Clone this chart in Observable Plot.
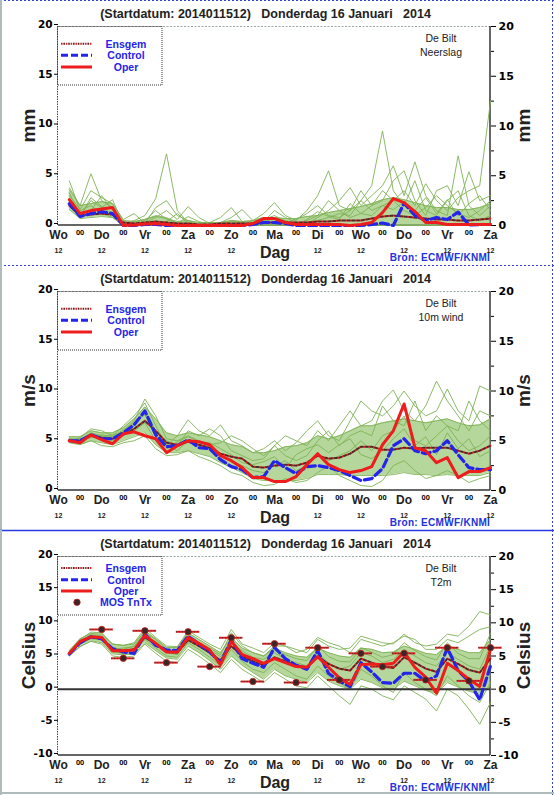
<!DOCTYPE html>
<html><head><meta charset="utf-8">
<script src="https://cdn.jsdelivr.net/npm/d3@7"></script>
<script src="https://cdn.jsdelivr.net/npm/@observablehq/plot@0.6"></script>
<style>
body{margin:0;background:#fff;}
#chart{width:554px;height:795px;position:relative;overflow:hidden;background:#fff;}
#chart svg{display:block;}
</style></head><body><div id="chart"></div>
<script>
// ---------- axis / tick labels ----------
const titleText = "(Startdatum: 2014011512)   Donderdag 16 Januari   2014";
const dayNames = ["Wo","Do","Vr","Za","Zo","Ma","Di","Wo","Do","Vr","Za"];
const dayHours = dayNames.map((d, i) => i * 24);
const hourLabels12 = [0, 24, 48, 72, 96, 144, 168, 192, 216, 240]; // "12" under day names (hidden under "Dag" at Ma)
const midHours = d3.range(12, 240, 24);
const hours = d3.range(6, 241, 6); // 6-hourly forecast steps

// ---------- Neerslag (mm) ----------
const precipOper    = [2.6,1.2,1.5,1.65,1.8,0.0,0.05,0.15,0.2,0.1,0.0,0.0,0.0,0.0,0.0,0.0,0.0,0.2,0.7,0.7,0.3,0.1,0.1,0.1,0.1,0.1,0.0,0.1,0.3,1.3,2.7,2.3,1.4,0.3,0.3,0.1,0.1,0.1,0.1,0.1];
const precipControl = [2.2,0.9,1.2,1.4,1.2,0.0,0.0,0.1,0.1,0.0,0.0,0.0,0.0,0.0,0.0,0.0,0.0,0.1,0.3,0.3,0.2,0.0,0.0,0.0,0.0,0.0,0.0,0.0,0.1,0.25,0.0,2.25,1.0,0.5,0.8,0.6,1.35,0.05,0.1,0.1];
const precipMean    = [2.0,1.0,1.1,1.2,1.1,0.3,0.2,0.3,0.4,0.3,0.2,0.2,0.1,0.1,0.2,0.2,0.2,0.2,0.3,0.3,0.3,0.3,0.3,0.4,0.4,0.5,0.5,0.5,0.7,0.9,1.0,0.9,0.8,0.7,0.6,0.6,0.5,0.5,0.6,0.7];
const precipLo      = [1.6,0.7,0.8,0.9,0.8,0,0,0,0,0,0,0,0,0,0,0,0,0,0,0,0,0,0,0,0,0,0,0,0,0,0,0,0,0,0,0,0,0,0,0];
const precipHi      = [3.6,2.0,2.2,2.4,2.2,0.5,0.4,0.6,0.9,0.7,0.4,0.5,0.3,0.3,0.3,0.5,0.4,0.5,0.8,0.8,0.7,0.7,0.9,1.0,1.3,1.5,1.7,1.9,2.2,2.6,2.8,2.6,2.3,2.0,1.8,1.8,1.6,1.6,1.8,2.2];
const precipM1 = [4.5,1.5,2.0,1.2,0.8,0.2,0.5,1.0,2.7,7.2,1.5,0.3,0.1,0.0,0.2,0.4,0.3,0.2,0.5,0.6,0.3,0.2,0.5,1.0,2.5,1.5,0.8,1.2,2.0,3.5,2.5,1.5,1.0,1.8,3.0,2.0,1.2,0.8,1.5,2.5];
const precipM2 = [3.8,2.0,5.2,2.5,1.8,0.1,0.0,0.3,0.8,1.5,0.6,1.9,0.8,0.2,0.1,0.2,0.1,0.5,1.2,2.3,1.0,0.5,1.5,3.0,5.5,2.0,1.5,2.5,4.0,9.5,3.5,2.0,4.5,1.5,1.0,2.5,3.5,1.0,0.5,1.0];
const precipM3 = [3.0,1.6,3.5,2.8,2.2,0.6,1.2,0.2,1.8,2.5,1.0,0.5,0.1,0.3,0.8,1.8,0.4,0.3,0.4,1.5,0.8,0.3,0.2,0.8,1.5,2.5,3.8,2.0,3.0,4.0,6.0,3.0,6.4,3.0,1.5,1.0,7.0,2.0,1.0,2.0];
const precipM4 = [2.5,1.2,1.5,3.0,1.5,0.3,0.0,0.5,1.5,0.6,0.2,0.1,0.0,0.1,0.3,0.8,1.6,0.5,0.2,0.4,0.3,0.6,1.2,2.0,1.0,0.8,1.5,3.5,2.0,2.5,4.5,5.5,2.5,1.0,3.5,4.0,2.0,5.4,2.5,3.0];
const precipM5 = [2.0,1.0,2.5,1.8,2.6,0.1,0.2,0.0,0.2,0.4,1.2,0.2,0.0,0.0,0.1,0.2,0.1,0.1,0.3,0.8,0.5,0.2,0.3,0.5,0.8,1.2,1.0,2.5,1.5,2.0,2.5,3.5,2.0,4.2,2.5,1.5,2.8,3.5,4.0,12.5];
const precipM6 = [3.3,0.9,2.8,1.9,1.1,0.0,0.3,0.6,1.0,0.8,0.2,0.9,0.4,0.0,0.0,0.5,0.3,0.0,0.6,1.0,0.4,0.1,0.6,1.4,0.9,0.6,2.2,1.2,1.0,2.0,1.6,2.4,1.5,2.8,1.2,2.6,1.0,2.2,3.0,1.5];

// ---------- 10m wind (m/s) ----------
const windOper    = [5.0,4.8,5.6,5.1,4.7,5.7,5.9,5.5,5.2,3.8,4.5,5.0,4.9,4.6,3.5,3.0,2.3,1.3,1.3,0.9,0.9,1.4,2.6,3.7,2.6,2.1,1.8,2.0,2.4,4.6,6.0,8.7,4.3,4.0,2.8,3.3,1.3,1.9,1.9,2.3];
const windControl = [5.0,5.0,5.6,5.2,5.2,5.8,6.6,8.0,5.6,4.4,4.5,5.1,4.3,4.2,3.1,2.4,2.1,1.3,1.4,3.0,2.3,1.7,2.4,2.5,2.3,2.0,1.5,1.0,1.2,2.2,4.5,5.2,4.0,3.7,4.0,5.0,3.6,2.3,2.1,2.1];
const windMean    = [5.0,5.0,5.5,5.3,5.2,5.6,6.2,7.0,6.0,4.8,4.6,4.9,4.6,4.3,3.7,3.4,3.2,2.4,2.3,2.5,2.6,2.5,2.8,3.5,3.2,3.3,3.7,4.4,4.4,4.1,4.1,4.3,4.2,4.3,4.3,4.3,4.0,3.7,4.0,4.5];
const windLo      = [4.8,4.6,5.0,4.8,4.6,5.0,5.4,5.8,4.6,3.8,3.8,4.0,3.7,3.4,2.8,2.3,1.8,1.2,1.0,1.0,1.0,1.0,1.2,1.6,1.6,1.6,1.5,1.5,1.5,1.5,1.6,1.8,1.6,1.6,1.5,1.6,1.5,1.5,1.5,1.8];
const windHi      = [5.4,5.4,6.0,5.8,5.8,6.3,7.2,8.4,7.2,5.8,5.5,5.8,5.6,5.4,5.0,4.6,4.4,3.8,3.8,4.0,4.4,4.5,4.8,5.5,5.2,5.5,6.0,6.5,6.5,6.8,7.0,7.2,7.0,6.8,7.0,7.2,6.8,6.5,6.6,7.2];
const windM1 = [5.2,5.0,5.8,5.5,5.3,6.0,7.0,9.2,7.5,5.2,5.0,5.5,5.0,4.6,4.8,5.5,5.0,4.2,3.5,4.5,5.5,5.0,4.5,6.0,5.0,6.5,8.0,6.5,7.0,9.0,10.1,8.0,7.0,8.5,11.0,9.0,7.5,6.0,8.0,7.5];
const windM2 = [5.0,5.3,6.2,6.0,5.5,6.5,7.5,8.8,6.5,4.5,5.5,7.1,6.0,5.5,6.6,5.0,4.5,3.8,4.2,5.0,4.0,4.8,6.0,7.0,5.5,5.0,7.0,9.0,8.0,7.5,8.5,10.0,8.5,7.5,8.0,10.2,8.0,7.0,10.5,10.0];
const windM3 = [4.9,4.7,5.0,4.5,4.4,4.8,5.0,5.5,4.2,3.5,3.6,4.0,3.4,3.0,2.5,1.8,1.5,0.8,0.5,0.6,1.2,0.8,1.0,1.8,2.5,1.5,1.0,0.5,0.4,1.0,2.5,3.0,2.0,1.2,1.5,2.0,1.5,0.8,1.2,1.5];
const windM4 = [5.1,5.2,5.5,5.2,5.0,5.5,6.5,8.0,6.0,5.0,4.5,6.0,5.5,6.2,5.5,4.0,3.5,3.0,3.2,4.5,3.5,3.0,3.5,5.0,6.0,4.5,5.5,6.0,5.5,8.5,7.0,6.5,9.0,6.0,7.5,6.5,6.0,9.0,7.0,6.0];
const windM5 = [5.0,4.8,5.6,5.4,5.6,5.8,6.0,6.8,5.0,4.6,4.0,5.0,4.5,4.0,3.5,3.0,2.5,2.0,1.8,2.5,3.0,2.0,2.5,3.5,3.0,3.5,4.0,5.0,4.0,5.5,6.0,7.5,5.0,4.5,5.5,6.5,5.0,4.0,4.5,5.5];
const windM6 = [5.2,5.1,5.3,5.6,5.4,6.1,6.8,7.6,5.4,4.2,4.9,5.4,4.9,4.8,4.2,3.6,2.8,2.6,2.9,3.4,2.2,3.6,4.2,4.6,3.8,4.6,5.2,3.6,3.2,4.0,5.2,6.2,4.5,5.4,3.6,5.8,4.2,5.2,3.4,4.0];

// ---------- T2m (Celsius) ----------
const tempOper    = [5.4,7.2,7.9,7.8,5.8,5.8,5.9,8.1,6.9,5.6,5.6,7.8,6.9,5.9,3.7,7.2,5.2,4.6,3.9,4.6,4.0,3.4,3.3,4.9,3.3,1.7,0.7,3.7,3.8,3.7,3.9,5.6,3.3,1.8,-0.6,3.9,2.8,1.5,0.4,6.0];
const tempControl = [5.3,7.0,7.9,7.6,6.1,5.6,5.4,8.3,6.6,5.9,5.8,8.0,6.8,5.6,4.0,7.4,4.6,3.9,3.3,6.3,4.6,3.6,3.0,5.8,2.4,1.2,0.4,4.0,2.6,1.0,0.9,2.4,2.4,1.2,2.0,6.2,2.8,1.2,-1.6,3.5];
const tempMean    = [5.3,7.0,7.8,7.6,6.0,5.8,6.0,7.8,6.8,5.6,5.5,7.4,6.5,5.5,4.3,6.5,5.0,4.2,3.6,4.8,4.2,3.6,3.3,4.9,3.8,3.1,2.8,4.6,4.0,3.4,3.2,4.8,4.0,3.1,2.6,4.6,3.8,2.9,2.5,4.6];
const tempLo      = [5.0,6.5,7.3,7.0,5.3,5.2,5.3,7.0,5.8,4.7,4.5,6.5,5.5,4.3,3.0,5.0,3.6,2.5,1.5,3.0,2.0,1.5,1.0,2.5,1.2,0.5,0.0,1.5,1.0,0.2,0.0,1.2,0.5,-0.2,-0.6,1.0,0.3,-0.3,-0.8,0.5];
const tempHi      = [5.8,7.6,8.4,8.3,6.8,6.6,6.8,8.8,7.6,6.3,6.3,8.5,7.5,6.5,5.5,7.8,6.2,5.5,5.0,6.2,5.5,5.0,4.8,6.2,5.5,5.0,4.8,6.2,6.0,5.5,5.6,6.5,6.0,5.4,5.2,6.6,6.0,5.5,5.5,7.5];
const tempM1 = [5.6,7.5,8.6,8.5,6.8,6.6,7.0,9.2,7.8,6.5,6.4,8.8,7.8,6.8,6.0,9.0,6.8,6.2,5.5,7.0,6.5,6.0,5.5,7.5,6.5,6.0,6.2,8.0,7.5,7.0,6.8,8.3,7.0,6.5,6.8,8.3,8.0,9.5,11.7,11.2];
const tempM2 = [5.2,7.2,8.2,8.0,6.2,6.0,6.5,8.5,7.5,6.0,5.8,8.0,7.0,6.2,5.2,8.5,6.5,5.5,5.0,6.5,6.5,5.5,6.0,7.8,7.0,6.5,5.5,7.5,7.0,6.5,7.0,8.0,7.5,6.0,6.0,7.5,7.0,8.0,9.0,9.4];
const tempM3 = [5.0,6.4,7.2,6.8,5.0,4.8,5.0,6.8,5.4,4.2,4.0,6.0,5.0,3.8,2.5,4.5,3.0,2.0,1.0,2.5,1.5,0.5,0.2,2.0,0.5,-1.0,-2.3,0.5,0.0,-1.0,-1.6,0.5,-0.5,-1.5,-3.3,0.0,-1.0,-3.0,-5.3,-2.0];
const tempM4 = [5.3,6.8,7.6,7.4,5.6,5.4,5.6,7.5,6.2,5.0,4.8,7.0,6.0,4.8,3.5,6.0,4.2,3.0,2.5,4.0,3.0,2.0,1.5,3.5,2.0,1.0,0.0,3.0,2.0,0.5,-0.5,2.5,1.0,0.0,-1.0,2.0,0.5,-1.0,-2.0,1.0];
const tempM5 = [5.4,7.0,7.9,7.7,6.0,6.2,6.4,8.2,7.0,5.5,5.2,7.5,6.5,5.5,4.5,7.5,5.5,4.5,4.0,5.5,4.5,4.0,3.5,5.5,4.0,3.0,3.5,5.5,5.0,4.0,4.5,6.0,5.0,4.0,3.5,5.5,4.5,3.5,3.0,6.5];
const tempM6 = [5.5,7.3,8.0,7.9,6.3,5.9,6.1,7.9,7.2,5.8,5.9,7.8,6.8,5.9,4.9,6.9,5.8,4.8,4.5,5.8,5.2,4.6,4.3,6.6,4.9,4.2,4.1,6.2,5.6,4.8,5.2,7.0,5.8,4.9,4.4,7.0,5.4,4.6,4.6,8.4];
// MOS Tn/Tx
const mosHours = [24,36,48,60,72,84,96,108,120,132,144,156,168,180,192,204,216,228,240];
const mosTemp  = [9.0,4.65,8.8,4.0,8.65,3.4,7.75,1.15,6.85,1.0,6.25,1.4,5.4,3.4,5.4,1.4,6.25,1.25,6.25];

// ---------- styling ----------
const RED = "#ee1c1c", BLUE = "#2424ea", GREEN = "#7fb256", GREENFILL = "#96c672", DARK = "#222";
const W = 554, H = 265, ML = 58, MR = 64, MT = 26, MB = 40;

function makePanel(cfg) {
  const marks = [
    Plot.areaY(hours, {x: hours, y1: cfg.lo, y2: cfg.hi, fill: GREENFILL, fillOpacity: 0.7}),
    Plot.lineY(cfg.lo, {x: hours, stroke: GREEN, strokeWidth: 0.9}),
    Plot.lineY(cfg.hi, {x: hours, stroke: GREEN, strokeWidth: 0.9}),
    ...cfg.members.map(m => Plot.lineY(m, {x: hours, stroke: GREEN, strokeWidth: 0.9})),
  ];
  if (cfg.zeroLine) marks.push(Plot.ruleY([0], {stroke: "#333", strokeWidth: 2}));
  marks.push(
    Plot.lineY(cfg.mean, {x: hours, stroke: "#e02020", strokeWidth: 2, strokeDasharray: "1.6,3.2"}),
    Plot.lineY(cfg.mean, {x: hours, stroke: "#4a2a2a", strokeWidth: 2, strokeDasharray: "1.6,3.2", strokeDashoffset: 2.4}),
    Plot.lineY(cfg.control, {x: hours, stroke: BLUE, strokeWidth: 3.2, strokeDasharray: "8,4"}),
    Plot.lineY(cfg.oper, {x: hours, stroke: RED, strokeWidth: 3})
  );
  if (cfg.mos) {
    const mos = mosHours.map((h, i) => ({h, v: mosTemp[i]}));
    marks.push(
      Plot.ruleY(mos, {y: "v", x1: d => d.h - 6.5, x2: d => d.h + 6.5, stroke: "#e02020", strokeWidth: 2}),
      Plot.ruleY(mos, {y: "v", x1: d => d.h - 6.5, x2: d => d.h + 6.5, stroke: "#333", strokeWidth: 1, strokeDasharray: "1,2"}),
      Plot.dot(mos, {x: "h", y: "v", r: 3.2, fill: "#3a2626", stroke: "#c02020", strokeWidth: 0.8})
    );
  }
  marks.push(
    Plot.axisY(cfg.ticks, {anchor: "left", tickSize: 4, tickPadding: 2, dy: -2, tickFormat: d => String(d), fontFamily: "DejaVu Sans", fontSize: 10.5, fontWeight: "bold", label: null}),
    Plot.axisY(cfg.ticks, {anchor: "right", tickSize: 5, tickPadding: 3, tickFormat: d => String(d), fontFamily: "DejaVu Sans", fontSize: 11, fontWeight: "bold", label: null}),
    Plot.axisY(cfg.minor, {anchor: "right", tickSize: 3, tickFormat: () => "", label: null}),
    Plot.text(dayNames, {x: dayHours, text: d => d, frameAnchor: "bottom", dy: 13.5, fontSize: 12, fontWeight: "bold", fill: DARK}),
    Plot.text(midHours, {x: d => d, text: () => "00", frameAnchor: "bottom", dy: 9.5, fontSize: 7.5, fontWeight: "bold", fill: "#000", stroke: "none"}),
    Plot.text(hourLabels12, {x: d => d, text: () => "12", frameAnchor: "bottom", dy: 27, fontSize: 7, fontWeight: "bold", fill: DARK})
  );
  const svg = Plot.plot({
    width: W, height: H, marginTop: MT, marginBottom: MB, marginLeft: ML, marginRight: MR,
    x: {domain: [0, 240], axis: null},
    y: {domain: cfg.domain, axis: null},
    style: {fontFamily: "'Liberation Sans', Arial, sans-serif", background: "white", overflow: "visible"},
    marks
  });
  decorate(svg, cfg);
  return svg;
}

function decorate(svg, cfg) {
  const s = d3.select(svg);
  const back = s.insert("g", ":first-child");
  const x0 = ML, x1 = W - MR, y0 = MT, y1 = H - MB;
  back.append("line").attr("x1", x0).attr("x2", x1).attr("y1", y0 + 0.5).attr("y2", y0 + 0.5).attr("stroke", "#9aa8a0").attr("stroke-dasharray", "2,1.5");
  back.append("line").attr("x1", x0 - 0.5).attr("x2", x0 - 0.5).attr("y1", y0).attr("y2", y1).attr("stroke", "#444").attr("stroke-dasharray", "1.5,1");
  back.append("line").attr("x1", x0).attr("x2", x1).attr("y1", y1).attr("y2", y1).attr("stroke", "#333").attr("stroke-width", 1.5);
  back.append("line").attr("x1", x1).attr("x2", x1).attr("y1", y0).attr("y2", y1).attr("stroke", "#333").attr("stroke-width", 1.5);

  const g = s.append("g").attr("font-family", "'Liberation Sans', Arial, sans-serif");
  // panel borders
  if (cfg.solidTop) g.append("line").attr("x1", 0).attr("x2", W).attr("y1", 0.5).attr("y2", 0.5).attr("stroke", "#2a3ae0").attr("stroke-width", 1.5);
  else g.append("line").attr("x1", 0).attr("x2", W).attr("y1", 0.5).attr("y2", 0.5).attr("stroke", "#3344dd").attr("stroke-dasharray", "2,2");
  g.append("line").attr("x1", W - 1.5).attr("x2", W - 1.5).attr("y1", 0).attr("y2", H).attr("stroke", "#3344dd").attr("stroke-dasharray", "2,2");
  g.append("line").attr("x1", 1).attr("x2", 1).attr("y1", 0).attr("y2", H).attr("stroke", "#b0bcbc").attr("stroke-width", 2);
  if (cfg.bottomBorder) g.append("line").attr("x1", 0).attr("x2", W).attr("y1", H - 2).attr("y2", H - 2).attr("stroke", "#b0bcbc").attr("stroke-width", 2);

  g.append("text").attr("x", 265.5).attr("y", 17.5).attr("text-anchor", "middle").attr("font-size", 12.5).attr("font-weight", "bold").attr("fill", DARK).attr("xml:space", "preserve").style("white-space", "pre").text(titleText);
  g.append("text").attr("x", 441).attr("y", 42).attr("text-anchor", "middle").attr("font-size", 10.5).attr("fill", DARK).text("De Bilt");
  g.append("text").attr("x", 441).attr("y", 56).attr("text-anchor", "middle").attr("font-size", 10.5).attr("fill", DARK).text(cfg.varName);
  g.append("text").attr("x", 275).attr("y", 257.5).attr("text-anchor", "middle").attr("font-size", 16).attr("font-weight", "bold").attr("fill", DARK).text("Dag");
  g.append("text").attr("transform", `translate(35,${(y0 + y1) / 2}) rotate(-90)`).attr("text-anchor", "middle").attr("font-size", 19).attr("font-weight", "bold").attr("fill", DARK).text(cfg.unit);
  g.append("text").attr("transform", `translate(530,${(y0 + y1) / 2}) rotate(-90)`).attr("text-anchor", "middle").attr("font-size", 19).attr("font-weight", "bold").attr("fill", DARK).text(cfg.unit);
  g.append("text").attr("x", 440).attr("y", 261).attr("font-size", 10).attr("font-weight", "bold").attr("letter-spacing", 0.3).attr("fill", "#2233dd").text("Bron: ECMWF/KNMI");

  // legend
  const items = [{label: "Ensgem", type: "mean"}, {label: "Control", type: "ctrl"}, {label: "Oper", type: "oper"}];
  if (cfg.mos) items.push({label: "MOS TnTx", type: "mos"});
  const ys = cfg.mos ? [38, 49.7, 61, 72.3] : [43.7, 55.3, 67];
  g.append("rect").attr("x", x0 - 0.5).attr("y", y0 + 0.5).attr("width", 104.5).attr("height", 58.5).attr("fill", "none").attr("stroke", "#333").attr("stroke-dasharray", "1,1");
  items.forEach((it, i) => {
    const y = ys[i];
    if (it.type === "mean") {
      g.append("line").attr("x1", 61).attr("x2", 92).attr("y1", y).attr("y2", y).attr("stroke", "#e02020").attr("stroke-width", 2).attr("stroke-dasharray", "1.6,3.2");
      g.append("line").attr("x1", 61).attr("x2", 92).attr("y1", y).attr("y2", y).attr("stroke", "#4a2a2a").attr("stroke-width", 2).attr("stroke-dasharray", "1.6,3.2").attr("stroke-dashoffset", 2.4);
    } else if (it.type === "ctrl") {
      g.append("line").attr("x1", 61).attr("x2", 92).attr("y1", y).attr("y2", y).attr("stroke", BLUE).attr("stroke-width", 3).attr("stroke-dasharray", "7,3");
    } else if (it.type === "oper") {
      g.append("line").attr("x1", 61).attr("x2", 92).attr("y1", y).attr("y2", y).attr("stroke", RED).attr("stroke-width", 3);
    } else {
      g.append("circle").attr("cx", 77).attr("cy", y).attr("r", 3.2).attr("fill", "#3a2626").attr("stroke", "#c02020").attr("stroke-width", 0.8);
    }
    g.append("text").attr("x", 126).attr("y", y + 3.8).attr("text-anchor", "middle").attr("font-size", 10.5).attr("font-weight", "bold").attr("fill", BLUE).text(it.label);
  });
}

const chart = document.getElementById("chart");
chart.append(makePanel({
  domain: [0, 20], ticks: [0, 5, 10, 15, 20], minor: [2.5, 7.5, 12.5, 17.5],
  oper: precipOper, control: precipControl, mean: precipMean, lo: precipLo, hi: precipHi,
  members: [precipM1, precipM2, precipM3, precipM4, precipM5, precipM6],
  unit: "mm", varName: "Neerslag"
}));
chart.append(makePanel({
  domain: [0, 20], ticks: [0, 5, 10, 15, 20], minor: [2.5, 7.5, 12.5, 17.5],
  oper: windOper, control: windControl, mean: windMean, lo: windLo, hi: windHi,
  members: [windM1, windM2, windM3, windM4, windM5, windM6],
  unit: "m/s", varName: "10m wind"
}));
chart.append(makePanel({
  domain: [-10, 20], ticks: [-10, -5, 0, 5, 10, 15, 20], minor: [-7.5, -2.5, 2.5, 7.5, 12.5, 17.5],
  oper: tempOper, control: tempControl, mean: tempMean, lo: tempLo, hi: tempHi,
  members: [tempM1, tempM2, tempM3, tempM4, tempM5, tempM6],
  unit: "Celsius", varName: "T2m", zeroLine: true, mos: true, solidTop: true, bottomBorder: true
}));
</script></body></html>
